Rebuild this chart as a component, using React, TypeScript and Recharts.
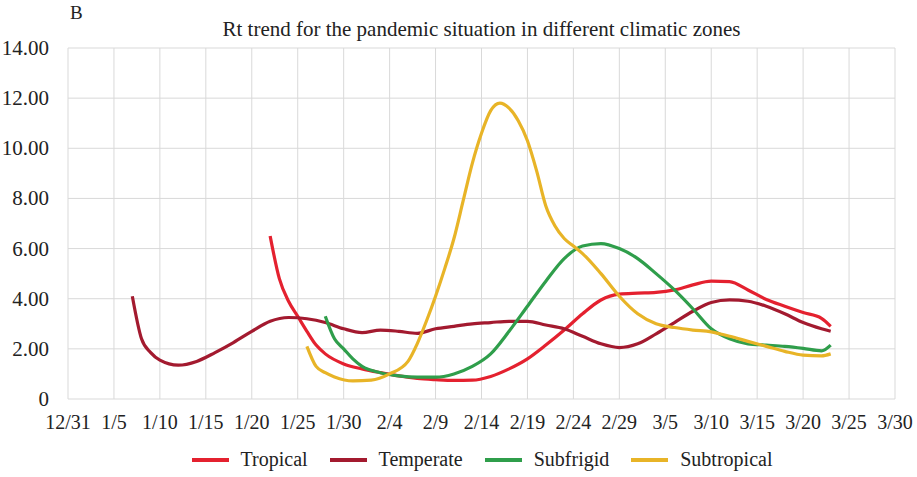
import React from 'react'
import { LineChart, Line, XAxis, YAxis, CartesianGrid, Legend } from 'recharts'

// x axis: days counted from 12/31
const tickLabels = ['12/31', '1/5', '1/10', '1/15', '1/20', '1/25', '1/30', '2/4', '2/9', '2/14', '2/19', '2/24', '2/29', '3/5', '3/10', '3/15', '3/20', '3/25', '3/30']
const tickDays = tickLabels.map((_, i) => i * 5)
const yTicks = [0, 2, 4, 6, 8, 10, 12, 14]

const tropicalDays = [22, 23, 24, 25, 26, 27, 28, 30, 32, 34, 36, 38, 40, 42, 44, 46, 48, 50, 52, 54, 56, 58, 60, 62, 64, 66, 68, 70, 72, 74, 76, 78, 80, 82, 83]
const tropicalRt = [6.5, 4.8, 3.9, 3.3, 2.7, 2.15, 1.8, 1.4, 1.2, 1.05, 0.92, 0.82, 0.77, 0.74, 0.75, 0.9, 1.2, 1.6, 2.15, 2.75, 3.4, 3.95, 4.18, 4.22, 4.25, 4.35, 4.55, 4.7, 4.68, 4.35, 3.97, 3.7, 3.45, 3.22, 2.9]

const temperateDays = [7, 8, 9, 10, 12, 14, 16, 18, 20, 22, 24, 26, 28, 30, 32, 34, 36, 38, 40, 42, 44, 46, 48, 50, 52, 54, 56, 58, 60, 62, 64, 66, 68, 70, 72, 74, 76, 78, 80, 82, 83]
const temperateRt = [4.1, 2.4, 1.85, 1.55, 1.35, 1.5, 1.85, 2.25, 2.7, 3.1, 3.25, 3.2, 3.05, 2.8, 2.65, 2.75, 2.7, 2.62, 2.8, 2.9, 3.0, 3.05, 3.1, 3.1, 2.95, 2.8, 2.5, 2.2, 2.05, 2.2, 2.6, 3.05, 3.5, 3.85, 3.95, 3.9, 3.7, 3.4, 3.05, 2.8, 2.7]

const subfrigidDays = [28, 29, 30, 31, 32, 34, 36, 38, 40, 42, 44, 46, 48, 50, 52, 54, 56, 58, 60, 62, 64, 66, 68, 70, 72, 74, 76, 78, 80, 82, 83]
const subfrigidRt = [3.3, 2.4, 2.0, 1.6, 1.3, 1.05, 0.92, 0.87, 0.87, 1.0, 1.3, 1.8, 2.7, 3.7, 4.7, 5.6, 6.1, 6.2, 6.0, 5.6, 5.0, 4.35, 3.6, 2.8, 2.4, 2.2, 2.15, 2.1, 2.02, 1.92, 2.15]

const subtropicalDays = [26, 27, 28, 29, 31, 33, 35, 37, 38, 39, 40, 41, 42, 43, 44, 45, 46, 47, 48, 49, 50, 51, 52, 53, 54, 55, 56, 58, 60, 62, 64, 66, 68, 70, 72, 74, 76, 78, 80, 82, 83]
const subtropicalRt = [2.1, 1.3, 1.05, 0.88, 0.72, 0.75, 1.0, 1.5, 2.2, 3.1, 4.1, 5.2, 6.4, 7.9, 9.4, 10.6, 11.5, 11.8, 11.6, 11.1, 10.3, 9.1, 7.7, 6.9, 6.4, 6.1, 5.8, 5.0, 4.1, 3.4, 3.0, 2.85, 2.75, 2.68, 2.5, 2.3, 2.1, 1.9, 1.75, 1.72, 1.8]

const series = [
  { name: 'Tropical', days: tropicalDays, values: tropicalRt, color: '#e4212f' },
  { name: 'Temperate', days: temperateDays, values: temperateRt, color: '#a31a2f' },
  { name: 'Subfrigid', days: subfrigidDays, values: subfrigidRt, color: '#2f9e4b' },
  { name: 'Subtropical', days: subtropicalDays, values: subtropicalRt, color: '#e8b427' },
]

// merge everything into one table keyed by day
const buildRows = () => {
  const map: Record<number, any> = {}
  series.forEach((s) => {
    s.days.forEach((d, i) => {
      if (!map[d]) map[d] = { day: d }
      map[d][s.name] = s.values[i]
    })
  })
  return Object.values(map).sort((a: any, b: any) => a.day - b.day)
}
const rows = buildRows()

const font = 'Liberation Serif, Times New Roman, serif'

const XTick = (props: any) => {
  const { x, y, payload } = props
  return (
    <text x={x} y={y} dy={14} textAnchor="middle" fontFamily={font} fontSize={20} fill="#222">
      {tickLabels[Math.round(payload.value / 5)]}
    </text>
  )
}

const YTick = (props: any) => {
  const { x, y, payload } = props
  const v = payload.value
  return (
    <text x={x} y={y} dy={7} textAnchor="end" fontFamily={font} fontSize={21} fill="#222">
      {v === 0 ? '0' : v.toFixed(2)}
    </text>
  )
}

const LegendBox = () => (
  <div style={{ display: 'flex', justifyContent: 'center', alignItems: 'center', fontFamily: font, fontSize: 20, color: '#222', paddingLeft: 61 }}>
    {series.map((s, i) => (
      <div key={s.name} style={{ display: 'flex', alignItems: 'center', marginRight: i < series.length - 1 ? 22 : 0 }}>
        <div style={{ width: 37, height: 4, background: s.color, marginRight: 12 }} />
        <span>{s.name}</span>
      </div>
    ))}
  </div>
)

const App = () => {
  return (
    <div style={{ position: 'absolute', left: 0, top: 0, width: 917, height: 477, background: '#fff', fontFamily: font }}>
      <div style={{ position: 'absolute', left: 70, top: 2, fontSize: 19, color: '#222' }}>B</div>
      <div style={{ position: 'absolute', left: 68, width: 827, top: 17, textAlign: 'center', fontSize: 21, color: '#222' }}>
        Rt trend for the pandemic situation in different climatic zones
      </div>
      <LineChart width={917} height={477} data={rows} margin={{ top: 48, right: 22, left: 8, bottom: 0 }}>
        <CartesianGrid stroke="#d9d9d9" />
        <XAxis
          dataKey="day"
          type="number"
          domain={[0, 90]}
          ticks={tickDays}
          axisLine={false}
          tickLine={false}
          interval={0}
          height={55}
          tick={<XTick />}
          tickMargin={10}
        />
        <YAxis
          domain={[0, 14]}
          ticks={yTicks}
          axisLine={false}
          tickLine={false}
          width={60}
          tick={<YTick />}
          tickMargin={13}
        />
        <Legend verticalAlign="bottom" content={<LegendBox />} wrapperStyle={{ bottom: 6 }} />
        {series.map((s) => (
          <Line
            key={s.name}
            type="monotone"
            dataKey={s.name}
            stroke={s.color}
            strokeWidth={3.2}
            dot={false}
            connectNulls
            isAnimationActive={false}
          />
        ))}
      </LineChart>
    </div>
  )
}

export default App
